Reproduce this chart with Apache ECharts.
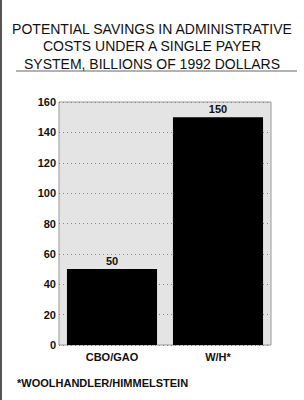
<!DOCTYPE html>
<html>
<head>
<meta charset="utf-8">
<style>
  html, body { margin: 0; padding: 0; background: #fff; }
  #chart { width: 304px; height: 400px; }
</style>
<script src="https://cdn.jsdelivr.net/npm/echarts@6/dist/echarts.min.js"></script>
</head>
<body>
<div id="chart"></div>
<script>
const titleLines = ['POTENTIAL SAVINGS IN ADMINISTRATIVE', 'COSTS UNDER A SINGLE PAYER', 'SYSTEM, BILLIONS OF 1992 DOLLARS'];
const categories = ['CBO/GAO', 'W/H*'];
const savings = [50, 150];
const footnote = '*WOOLHANDLER/HIMMELSTEIN';

const font = 'Liberation Sans, Arial, sans-serif';
const chart = echarts.init(document.getElementById('chart'), null, { renderer: 'svg' });

chart.setOption({
  animation: false,
  title: {
    text: titleLines.join('\n'),
    left: 'center',
    top: 15,
    textStyle: { fontFamily: font, fontSize: 14, fontWeight: 'normal', color: '#111', lineHeight: 17.5 }
  },
  grid: { left: 59, right: 33, top: 102, bottom: 55, show: true, backgroundColor: '#e4e4e4', borderColor: '#999', borderWidth: 1 },
  xAxis: {
    type: 'category',
    data: categories,
    axisLine: { show: false },
    axisTick: { show: false },
    axisLabel: { fontFamily: font, fontSize: 11, fontWeight: 'bold', color: '#111', margin: 6 }
  },
  yAxis: {
    type: 'value',
    min: 0,
    max: 160,
    interval: 20,
    axisLine: { show: false },
    axisTick: { show: false },
    axisLabel: { fontFamily: font, fontSize: 11, fontWeight: 'bold', color: '#111', margin: 3 },
    splitLine: { lineStyle: { color: '#888', type: [1, 3], width: 1 } }
  },
  series: [{
    type: 'bar',
    data: savings,
    barCategoryGap: '15%',
    itemStyle: { color: '#000' },
    label: { show: true, position: 'top', distance: 3, fontFamily: font, fontSize: 11, fontWeight: 'bold', color: '#111' }
  }],
  graphic: [
    { type: 'line', shape: { x1: 16, y1: 71, x2: 297, y2: 71 }, style: { stroke: '#999', lineWidth: 1.5 } },
    { type: 'line', shape: { x1: 1, y1: 0, x2: 1, y2: 400 }, style: { stroke: '#555', lineWidth: 2 } },
    { type: 'text', left: 17, top: 377, style: { text: footnote, font: 'bold 11px ' + font, fill: '#111' } }
  ]
});
</script>
</body>
</html>
